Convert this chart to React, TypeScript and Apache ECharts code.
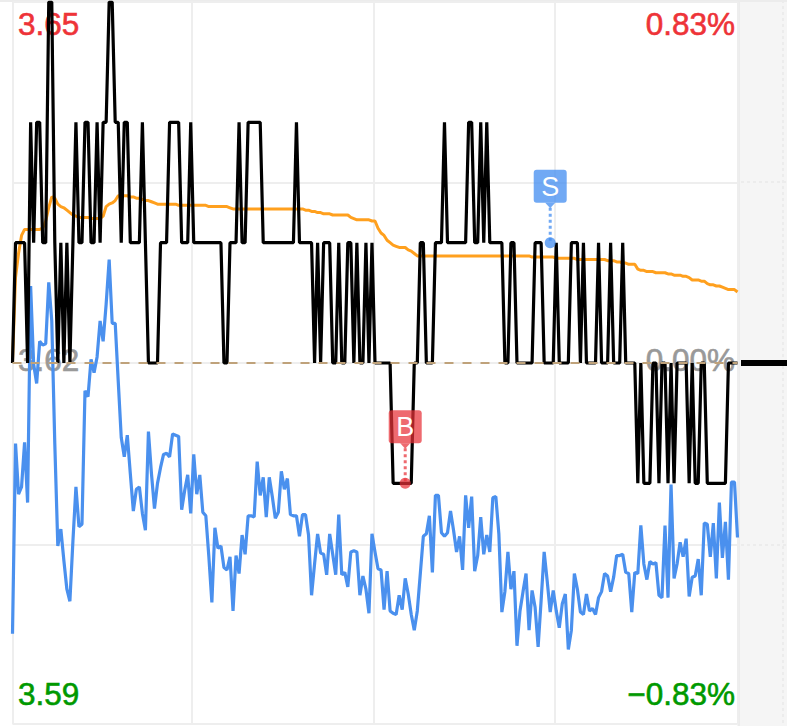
import React, { useEffect, useRef } from "react";
import * as echarts from "echarts";

const priceLine = [
  3.62,3.63,3.63,3.63,3.63,3.62,3.64,3.63,3.64,3.64,
  3.63,3.63,3.65,3.65,3.63,3.62,3.63,3.62,3.63,3.62,
  3.63,3.64,3.63,3.63,3.64,3.64,3.63,3.63,3.64,3.63,
  3.64,3.64,3.65,3.65,3.64,3.64,3.63,3.64,3.64,3.63,
  3.63,3.63,3.63,3.64,3.63,3.62,3.62,3.62,3.62,3.63,
  3.63,3.63,3.64,3.64,3.64,3.64,3.63,3.63,3.63,3.64,
  3.63,3.63,3.63,3.63,3.63,3.63,3.63,3.63,3.63,3.63,
  3.62,3.62,3.63,3.63,3.63,3.64,3.63,3.63,3.64,3.64,
  3.64,3.64,3.64,3.63,3.63,3.63,3.63,3.63,3.63,3.63,
  3.63,3.63,3.63,3.63,3.64,3.63,3.63,3.63,3.63,3.63,
  3.62,3.63,3.62,3.63,3.63,3.63,3.62,3.62,3.63,3.62,
  3.62,3.63,3.63,3.62,3.63,3.62,3.62,3.63,3.62,3.63,
  3.62,3.62,3.62,3.62,3.62,3.62,3.61,3.61,3.61,3.61,
  3.61,3.61,3.61,3.62,3.62,3.63,3.63,3.62,3.62,3.62,
  3.63,3.63,3.63,3.64,3.63,3.63,3.63,3.63,3.63,3.63,
  3.63,3.64,3.64,3.63,3.63,3.64,3.63,3.64,3.63,3.63,
  3.63,3.63,3.63,3.62,3.62,3.63,3.63,3.62,3.62,3.62,
  3.62,3.62,3.62,3.63,3.63,3.63,3.62,3.62,3.62,3.62,
  3.63,3.62,3.62,3.62,3.62,3.63,3.63,3.63,3.62,3.63,
  3.62,3.62,3.62,3.62,3.63,3.62,3.62,3.62,3.63,3.62,
  3.62,3.62,3.63,3.62,3.62,3.62,3.62,3.61,3.62,3.61,
  3.61,3.61,3.62,3.62,3.61,3.62,3.62,3.61,3.62,3.61,
  3.62,3.62,3.62,3.62,3.61,3.62,3.61,3.61,3.62,3.62,
  3.61,3.61,3.61,3.61,3.61,3.61,3.61,3.62,3.62,3.62,3.62,
];

const blueLine = [
  3.5975,3.6133,3.6091,3.6097,3.6134,3.6084,3.6264,3.6199,3.6183,3.6218,
  3.6215,3.6216,3.6267,3.6235,3.6133,3.6048,3.6062,3.6036,3.6012,3.6002,
  3.6052,3.6097,3.6064,3.6066,3.6177,3.6172,3.6203,3.6192,3.6205,3.6235,
  3.6218,3.6249,3.6286,3.6233,3.6233,3.6185,3.6138,3.6122,3.6140,3.6108,
  3.6077,3.6095,3.6097,3.6075,3.6061,3.6143,3.6108,3.6079,3.6100,3.6113,
  3.6124,3.6125,3.6122,3.6141,3.6140,3.6139,3.6078,3.6094,3.6107,3.6075,
  3.6124,3.6091,3.6107,3.6076,3.6073,3.6039,3.6001,3.6063,3.6046,3.6048,
  3.6030,3.6028,3.6039,3.5994,3.6040,3.6025,3.6057,3.6041,3.6073,3.6073,
  3.6072,3.6118,3.6090,3.6105,3.6072,3.6105,3.6089,3.6071,3.6076,3.6110,
  3.6095,3.6104,3.6074,3.6073,3.6073,3.6056,3.6074,3.6074,3.6057,3.6007,
  3.6033,3.6058,3.6042,3.6041,3.6024,3.6058,3.6041,3.6024,3.6074,3.6024,
  3.6026,3.6014,3.6043,3.6044,3.6043,3.6007,3.6023,3.6012,3.5992,3.6058,
  3.6043,3.6029,3.6028,3.5995,3.6027,3.5994,3.5992,3.5991,3.6007,3.5995,
  3.6021,3.6008,3.5991,3.5978,3.5994,3.6025,3.6056,3.6058,3.6073,3.6026,
  3.6090,3.6090,3.6059,3.6056,3.6059,3.6077,3.6061,3.6043,3.6056,3.6028,
  3.6090,3.6063,3.6089,3.6027,3.6040,3.6072,3.6041,3.6057,3.6043,3.6088,
  3.6089,3.6058,3.5993,3.6010,3.6043,3.6012,3.6027,3.5965,3.5994,3.6010,
  3.6025,3.5978,3.6011,3.5997,3.5964,3.6003,3.6043,3.6019,3.5993,3.6011,
  3.5994,3.5980,3.6000,3.6008,3.5962,3.5978,3.6025,3.6012,3.5993,3.5991,
  3.6008,3.5994,3.5996,3.5991,3.6005,3.6010,3.6025,3.6023,3.6010,3.6022,
  3.6040,3.6040,3.6041,3.6026,3.6025,3.5993,3.6026,3.6025,3.6065,3.6033,
  3.6020,3.6035,3.6033,3.6034,3.6007,3.6005,3.6065,3.6005,3.6099,3.6021,
  3.6033,3.6051,3.6039,3.6054,3.6006,3.6022,3.6023,3.6037,3.6007,3.6067,
  3.6066,3.6039,3.6067,3.6021,3.6084,3.6038,3.6068,3.6020,3.6101,3.6101,3.6055,
];

const avgLine = [
  3.6200,3.6271,3.6291,3.6306,3.6311,3.6311,3.6311,3.6311,3.6311,3.6311,
  3.6312,3.6318,3.6329,3.6338,3.6337,3.6332,3.6330,3.6329,3.6327,3.6325,
  3.6323,3.6322,3.6321,3.6321,3.6321,3.6321,3.6320,3.6320,3.6320,3.6320,
  3.6322,3.6330,3.6332,3.6333,3.6335,3.6339,3.6339,3.6339,3.6339,3.6338,
  3.6338,3.6337,3.6337,3.6336,3.6335,3.6335,3.6334,3.6333,3.6332,3.6332,
  3.6332,3.6332,3.6332,3.6332,3.6332,3.6331,3.6331,3.6331,3.6331,3.6331,
  3.6331,3.6331,3.6331,3.6331,3.6331,3.6330,3.6330,3.6330,3.6330,3.6330,
  3.6330,3.6330,3.6329,3.6328,3.6328,3.6328,3.6328,3.6328,3.6328,3.6328,
  3.6328,3.6328,3.6328,3.6328,3.6328,3.6328,3.6328,3.6328,3.6328,3.6328,
  3.6328,3.6328,3.6328,3.6328,3.6328,3.6328,3.6328,3.6327,3.6327,3.6326,
  3.6326,3.6325,3.6325,3.6324,3.6324,3.6324,3.6323,3.6323,3.6323,3.6323,
  3.6323,3.6323,3.6321,3.6320,3.6319,3.6319,3.6319,3.6319,3.6319,3.6318,
  3.6318,3.6312,3.6308,3.6306,3.6302,3.6300,3.6298,3.6297,3.6296,3.6296,
  3.6296,3.6294,3.6293,3.6291,3.6289,3.6289,3.6289,3.6289,3.6289,3.6289,
  3.6289,3.6289,3.6289,3.6289,3.6289,3.6289,3.6289,3.6289,3.6289,3.6289,
  3.6289,3.6289,3.6289,3.6289,3.6289,3.6289,3.6289,3.6289,3.6289,3.6289,
  3.6289,3.6289,3.6289,3.6289,3.6289,3.6289,3.6289,3.6289,3.6289,3.6289,
  3.6289,3.6289,3.6288,3.6288,3.6288,3.6288,3.6288,3.6288,3.6288,3.6288,
  3.6287,3.6287,3.6287,3.6287,3.6287,3.6287,3.6287,3.6286,3.6286,3.6286,
  3.6286,3.6286,3.6286,3.6286,3.6286,3.6286,3.6286,3.6285,3.6285,3.6285,
  3.6284,3.6284,3.6283,3.6283,3.6282,3.6282,3.6282,3.6278,3.6277,3.6277,
  3.6276,3.6276,3.6276,3.6275,3.6275,3.6275,3.6275,3.6274,3.6274,3.6273,
  3.6273,3.6273,3.6272,3.6272,3.6271,3.6269,3.6269,3.6269,3.6268,3.6268,
  3.6266,3.6265,3.6265,3.6264,3.6264,3.6263,3.6262,3.6261,3.6261,3.6261,3.6259,
];

const trades: [number, number, string, string][] = [
  [130, 3.61, "B", "rgba(232,48,56,0.72)"],
  [178, 3.63, "S", "rgba(66,140,240,0.75)"],
];

const priceTicks = [3.59, 3.6049, 3.62, 3.635, 3.65];
const timeTicks = [0, 59.3, 119.6, 179.6, 240];
const baseline = 3.62;

const leftLabels = [
  { text: "3.65", y: 24, fill: "#ee3338" },
  { text: "3.62", y: 360, fill: "#999999" },
  { text: "3.59", y: 694, fill: "#009900" },
];
const rightLabels = [
  { text: "0.83%", y: 24, fill: "#ee3338" },
  { text: "0.00%", y: 360, fill: "#999999" },
  { text: "−0.83%", y: 694, fill: "#009900" },
];

const FONT = '"Liberation Sans", Arial, sans-serif';

function renderTrade(params: any, api: any) {
  const [x, y] = api.coord([api.value(0), api.value(1)]);
  const trade = trades[params.dataIndex];
  const fill = trade[3];
  const boxTop = y - 73;
  return {
    type: "group",
    children: [
      {
        type: "line",
        shape: { x1: x, y1: boxTop + 38, x2: x, y2: y },
        style: { stroke: fill, lineWidth: 3, lineDash: [3, 3] },
      },
      { type: "circle", shape: { cx: x, cy: y, r: 5.5 }, style: { fill } },
      {
        type: "polygon",
        shape: { points: [[x - 5, boxTop + 33], [x + 5, boxTop + 33], [x, boxTop + 38.5]] },
        style: { fill },
      },
      {
        type: "rect",
        shape: { x: x - 16.5, y: boxTop, width: 33, height: 33, r: 3 },
        style: { fill },
      },
      {
        type: "text",
        style: {
          text: trade[2],
          x,
          y: boxTop + 17,
          fill: "#ffffff",
          font: `27px ${FONT}`,
          textAlign: "center",
          textVerticalAlign: "middle",
        },
      },
    ],
  };
}

export default function App() {
  const ref = useRef<HTMLDivElement>(null);
  useEffect(() => {
    document.body.style.margin = "0";
    const chart = echarts.init(ref.current!, null, { renderer: "svg" });
    const toXY = (arr: number[]) => arr.map((v, i) => [i, v]);
    const textEl = (l: any, x: number, align: string) => ({
      type: "text",
      z: 1,
      x,
      y: l.y,
      style: {
        text: l.text,
        fill: l.fill,
        stroke: l.fill,
        lineWidth: 0.6,
        font: `31.5px ${FONT}`,
        textAlign: align,
        textVerticalAlign: "middle",
      },
    });
    chart.setOption({
      animation: false,
      backgroundColor: "#ffffff",
      grid: { left: 12.5, top: 2, width: 725, height: 722 },
      xAxis: {
        type: "value",
        min: 0,
        max: 240,
        axisLine: { show: false },
        axisLabel: { show: false },
        axisTick: { show: false, customValues: timeTicks },
        splitLine: { show: true, lineStyle: { color: "#eeeeee", width: 2 } },
      },
      yAxis: {
        type: "value",
        min: 3.59,
        max: 3.65,
        axisLine: { show: false },
        axisLabel: { show: false },
        axisTick: { show: false, customValues: priceTicks },
        splitLine: { show: true, lineStyle: { color: "#eeeeee", width: 2 } },
      },
      graphic: [
        { type: "rect", z: -1, shape: { x: 738, y: 0, width: 49, height: 726 }, style: { fill: "#f5f5f5" } },
        { type: "rect", z: -1, shape: { x: 737.5, y: 0, width: 2.5, height: 726 }, style: { fill: "#ececec" } },
        { type: "rect", z: -1, shape: { x: 0, y: 0, width: 787, height: 2 }, style: { fill: "#ececec" } },
        { type: "line", z: 1, shape: { x1: 741, y1: 182, x2: 787, y2: 182 }, style: { stroke: "#ececec", lineWidth: 2, lineDash: [3, 3] } },
        { type: "line", z: 1, shape: { x1: 741, y1: 545, x2: 787, y2: 545 }, style: { stroke: "#ececec", lineWidth: 2, lineDash: [3, 3] } },
        { type: "line", z: 1, shape: { x1: 783, y1: 0, x2: 783, y2: 726 }, style: { stroke: "#ececec", lineWidth: 2, lineDash: [3, 3] } },
        { type: "line", z: 1, shape: { x1: 741, y1: 363, x2: 787, y2: 363 }, style: { stroke: "#000000", lineWidth: 6 } },
        ...leftLabels.map((l) => textEl(l, 18, "left")),
        ...rightLabels.map((l) => textEl(l, 735, "right")),
      ],
      series: [
        {
          type: "line",
          data: toXY(avgLine),
          showSymbol: false,
          z: 2,
          lineStyle: { color: "#ffa01e", width: 3 },
          markLine: {
            silent: true,
            symbol: "none",
            label: { show: false },
            lineStyle: { color: "#bfa27a", type: [9, 9], width: 2 },
            data: [{ yAxis: baseline }],
          },
        },
        {
          type: "line",
          data: toXY(blueLine),
          showSymbol: false,
          z: 3,
          lineStyle: { color: "#4a90ee", width: 3.2 },
        },
        {
          type: "line",
          data: toXY(priceLine),
          showSymbol: false,
          z: 4,
          lineStyle: { color: "#000000", width: 3.2 },
        },
        {
          type: "custom",
          z: 5,
          silent: true,
          renderItem: renderTrade,
          encode: { x: 0, y: 1 },
          data: trades.map((t) => [t[0], t[1]]),
        },
      ],
    });
    return () => chart.dispose();
  }, []);
  return <div ref={ref} style={{ width: 787, height: 726 }} />;
}
